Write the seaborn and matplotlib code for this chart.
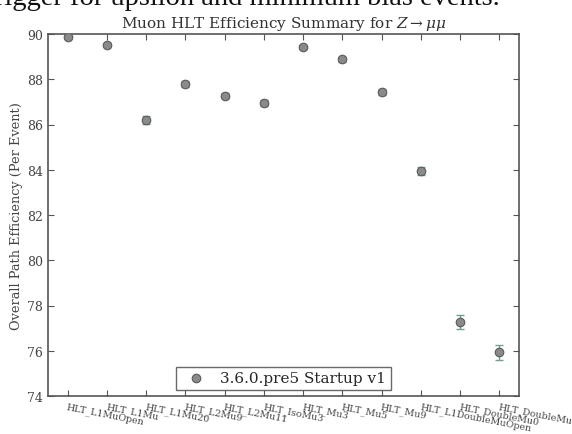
import matplotlib
matplotlib.use("Agg")
import matplotlib.pyplot as plt
import seaborn as sns
import pandas as pd

# HLT paths and their per-event efficiencies (%)
paths = ["HLT_L1MuOpen", "HLT_L1Mu", "HLT_L1Mu20", "HLT_L2Mu9", "HLT_L2Mu11",
         "HLT_IsoMu3", "HLT_Mu3", "HLT_Mu5", "HLT_Mu9", "HLT_L1DoubleMuOpen",
         "HLT_DoubleMu0", "HLT_DoubleMu3"]
efficiency = [89.85, 89.52, 86.19, 87.79, 87.28, 86.94, 89.41, 88.88, 87.44,
              83.95, 77.27, 75.93]
uncertainty = [0.08, 0.09, 0.17, 0.12, 0.13, 0.14, 0.09, 0.10, 0.13, 0.18,
               0.32, 0.34]
release = "3.6.0.pre5 Startup v1"

df = pd.DataFrame({"path": paths, "eff": efficiency, "err": uncertainty})
df["pos"] = range(len(df))

sns.set_style("white")
plt.rcParams["font.family"] = ["DejaVu Serif"]
plt.rcParams["mathtext.fontset"] = "dejavuserif"

fig = plt.figure(figsize=(5.72, 4.35), dpi=100)
ax = fig.add_axes([48 / 572, 1 - 397 / 435, 471 / 572, 362 / 435])

ax.errorbar(df["pos"], df["eff"], yerr=df["err"], fmt="none",
            ecolor="#6e9f95", elinewidth=1.0, capsize=3, capthick=1.0, zorder=2)
sns.scatterplot(data=df, x="pos", y="eff", ax=ax, s=38, color="#8a8a8a",
                edgecolor="#5a5a5a", linewidth=0.8, label=release, zorder=3)

ax.set_xlim(-0.5, 11.5)
ax.set_ylim(74, 90)
ax.set_yticks(range(74, 91, 2))
ax.set_xticks(df["pos"])
ax.set_xticklabels(paths, rotation=-11, ha="left", va="top",
                   rotation_mode="anchor", fontsize=6.8, color="#444444")
ax.tick_params(axis="y", labelsize=9, colors="#444444")
ax.tick_params(direction="in", length=4, width=0.8, top=True, right=True,
               bottom=True, left=True, color="#555555")
ax.tick_params(axis="x", pad=4)
for s in ax.spines.values():
    s.set_color("#555555")
    s.set_linewidth(1.2)

ax.set_xlabel("")
ax.set_ylabel("Overall Path Efficiency (Per Event)", fontsize=9.3,
              color="#444444", labelpad=3)
ax.set_title(r"Muon HLT Efficiency Summary for $Z\rightarrow\mu\mu$",
             fontsize=11, color="#333333", pad=5)

leg = ax.legend(loc="lower center", fontsize=11, frameon=True, fancybox=False,
                borderaxespad=0.4, handletextpad=0.6, borderpad=0.3,
                markerscale=1.0)
leg.get_frame().set_edgecolor("#444444")
leg.get_frame().set_linewidth(1.0)

# Last line of the preceding paragraph, mostly above the page
fig.text(500 / 572, 1 - 5 / 435, "trigger for upsilon and minimum bias events.",
         ha="right", va="baseline", fontsize=20.5, family="Liberation Serif",
         color="#111111")

fig.savefig("out.png", dpi=100)
